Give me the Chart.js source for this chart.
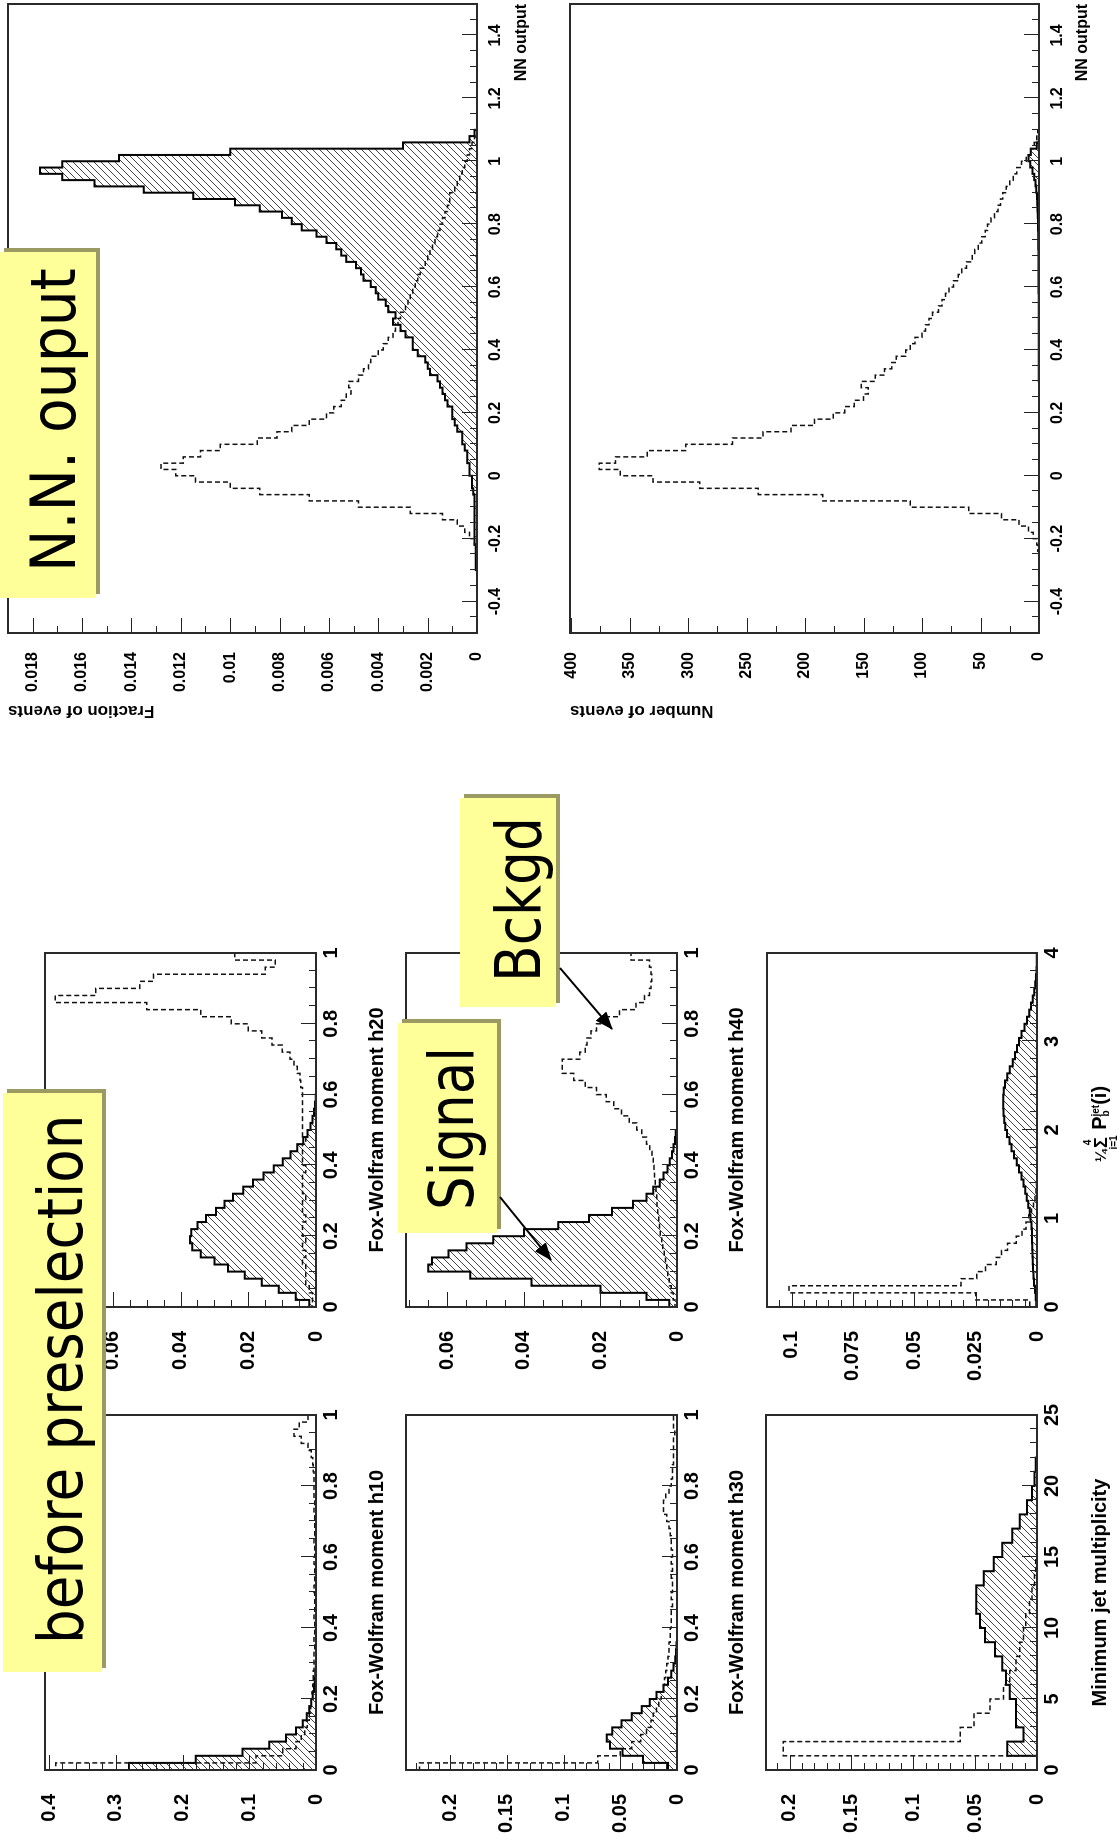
<!DOCTYPE html>
<html><head><meta charset="utf-8">
<script src="https://cdn.jsdelivr.net/npm/chart.js@4.4.1/dist/chart.umd.min.js"></script>
<style>
html,body{margin:0;padding:0;background:#fff;width:1119px;height:1842px;overflow:hidden}
#stage{position:absolute;left:0;top:0;width:1842px;height:1119px;transform-origin:0 0;transform:translateY(1842px) rotate(-90deg);background:#fff}
.note{position:absolute;background:#ffff99;box-shadow:4px 4px 0 #9a9a62;z-index:5}
.note span{position:absolute;font-family:'DejaVu Sans',Verdana,sans-serif;font-size:62px;line-height:62px;white-space:nowrap;transform-origin:0 0;color:#000}
#p6title{position:absolute;left:718px;top:1101px;transform:translate(-50%,-50%);font:bold 20px 'Liberation Sans',Arial,sans-serif;white-space:nowrap;z-index:2;color:#000}
.stk{display:inline-block;vertical-align:middle;text-align:center;line-height:10px}
.stk b{display:block;font-size:10px}
</style></head>
<body>
<div id="stage">
<div class="note" style="left:170px;top:3px;width:579px;height:99px"><span style="left:28px;top:27px;transform:scaleX(0.883)">before preselection</span></div>
<div class="note" style="left:1244px;top:0px;width:346px;height:96px"><span style="left:26px;top:23px;transform:scaleX(0.915)">N.N. ouput</span></div>
<div class="note" style="left:609px;top:398px;width:210px;height:99px"><span style="left:23px;top:23px;transform:scaleX(0.856)">Signal</span></div>
<div class="note" style="left:835px;top:460px;width:209px;height:96px"><span style="left:25px;top:28px;transform:scaleX(0.862)">Bckgd</span></div>
<svg width="1842" height="1119" style="position:absolute;left:0;top:0;z-index:6">
<defs><marker id="ah" markerUnits="userSpaceOnUse" markerWidth="18" markerHeight="14" refX="17" refY="7" orient="auto"><path d="M0,0 L18,7 L0,14 Z" fill="#000"/></marker></defs>
<line x1="645" y1="500" x2="582" y2="551" stroke="#000" stroke-width="2" marker-end="url(#ah)"/>
<line x1="874" y1="560" x2="813" y2="612" stroke="#000" stroke-width="2" marker-end="url(#ah)"/>
</svg>
<div id="p6title"><span style="font-size:15px">¼</span><span class="stk"><b>4</b><span style="font-size:18px;display:block;line-height:16px">Σ</span><b>i=1</b></span> P<span class="stk" style="text-align:left"><b>jet</b><b>b</b></span>(i)</div>
</div>
<script>
// ---------------- data ----------------
const SMALL_BINW = 0.02;
const xTicks01 = [0, 0.2, 0.4, 0.6, 0.8, 1];

// panel h10 (top left)
const p1YTicks = [0, 0.1, 0.2, 0.3, 0.4];
const p1Signal = [0.28,0.18,0.11,0.07,0.045,0.03,0.02,0.014,0.01,0.007,0.005,0.003,0.002,0.001,0.0005,
 0,0,0,0,0,0,0,0,0,0,0,0,0,0,0,0,0,0,0,0,0,0,0,0,0,0,0,0,0,0,0,0,0,0,0];
const p1Bkgd = [0.39,0.09,0.05,0.03,0.022,0.017,0.013,0.010,0.008,0.007,
 0.006,0.005,0.004,0.004,0.003,0.003,0.003,0.002,0.003,0.002,
 0.002,0.003,0.002,0.002,0.002,0.003,0.002,0.002,0.002,0.003,
 0.002,0.002,0.003,0.002,0.002,0.002,0.003,0.002,0.003,0.003,
 0.003,0.003,0.004,0.005,0.007,0.012,0.022,0.033,0.025,0.012];

// panel h30 (middle left)
const p2YTicks = [0, 0.05, 0.1, 0.15, 0.2];
const p2Signal = [0.008,0.03,0.048,0.059,0.062,0.057,0.049,0.04,0.031,0.024,
 0.018,0.012,0.008,0.005,0.003,0.0015,0.0008,0.0004,0,0,
 0,0,0,0,0,0,0,0,0,0,0,0,0,0,0,0,0,0,0,0,0,0,0,0,0,0,0,0,0,0];
const p2Bkgd = [0.227,0.07,0.05,0.04,0.032,0.027,0.023,0.021,0.018,0.016,
 0.014,0.012,0.011,0.010,0.009,0.008,0.007,0.007,0.006,0.006,
 0.005,0.005,0.005,0.004,0.005,0.004,0.004,0.005,0.004,0.005,
 0.004,0.005,0.005,0.006,0.007,0.009,0.012,0.012,0.010,0.007,
 0.005,0.004,0.004,0.003,0.003,0.003,0.003,0.002,0.003,0.003];

// panel jet multiplicity (bottom left)
const p3XTicks = [0, 5, 10, 15, 20, 25];
const p3YTicks = [0, 0.05, 0.1, 0.15, 0.2];
const p3Signal = [0,0.024,0.011,0.017,0.017,0.022,0.025,0.028,0.034,0.042,0.046,0.049,0.049,0.043,0.035,0.028,0.020,0.014,0.008,0.004,0.002,0.001,0,0,0];
const p3Bkgd = [0,0.205,0.062,0.051,0.038,0.027,0.022,0.017,0.014,0.011,0.009,0.006,0.004,0.002,0.001,0,0,0,0,0,0,0,0,0,0];

// panel h20 (top right)
const p4YTicks = [0, 0.02, 0.04, 0.06];
const p4Signal = [0.002,0.006,0.011,0.016,0.021,0.026,0.030,0.034,0.0365,0.0372,
 0.0368,0.035,0.0325,0.0295,0.027,0.0245,0.0215,0.0186,0.0155,0.0125,
 0.0098,0.0075,0.0055,0.0038,0.0025,0.0016,0.001,0.0006,0.0003,0.0001,
 0,0,0,0,0,0,0,0,0,0,0,0,0,0,0,0,0,0,0,0];
const p4Bkgd = [0.001,0.001,0.002,0.003,0.003,0.003,0.004,0.003,0.004,0.003,
 0.004,0.004,0.003,0.004,0.004,0.003,0.004,0.004,0.004,0.003,
 0.004,0.004,0.004,0.003,0.004,0.004,0.004,0.004,0.004,0.004,
 0.004,0.0045,0.0047,0.0055,0.0065,0.0077,0.01,0.013,0.016,0.02,
 0.025,0.034,0.05,0.077,0.065,0.052,0.048,0.015,0.012,0.024];

// panel h40 (middle right)
const p5YTicks = [0, 0.02, 0.04, 0.06];
const p5Signal = [0.002,0.008,0.02,0.038,0.054,0.065,0.064,0.0597,0.055,0.048,
 0.04,0.031,0.023,0.017,0.0115,0.008,0.0062,0.0045,0.0035,0.0025,
 0.0019,0.0013,0.0009,0.0005,0.0003,0,0,0,0,0,
 0,0,0,0,0,0,0,0,0,0,0,0,0,0,0,0,0,0,0,0];
const p5Bkgd = [0.0005,0.001,0.0015,0.002,0.0024,0.0027,0.003,0.0033,0.0037,0.004,
 0.0044,0.0046,0.0048,0.005,0.0052,0.0053,0.0055,0.0057,0.0059,0.006,
 0.0062,0.0065,0.0071,0.008,0.0092,0.0105,0.0125,0.0145,0.0165,0.0185,
 0.021,0.024,0.027,0.03,0.03,0.0254,0.024,0.0235,0.0225,0.021,
 0.0185,0.015,0.0107,0.0085,0.0072,0.0068,0.0066,0.0068,0.0072,0.012];

// panel b-tag probability (bottom right), bins of 0.08
const P6_BINW = 0.08;
const p6XTicks = [0, 1, 2, 3, 4];
const p6YTicks = [0, 0.025, 0.05, 0.075, 0.1];
const p6Signal = [0.0003,0.0005,0.0008,0.0012,0.0014,0.0016,0.0017,0.0018,0.0019,0.002,
 0.002,0.0022,0.0026,0.003,0.0036,0.0042,0.0048,0.0055,0.0063,0.0073,
 0.0083,0.0094,0.0104,0.0112,0.0122,0.0129,0.0133,0.0136,0.0138,0.0137,
 0.0135,0.013,0.0121,0.0111,0.0099,0.009,0.0081,0.0073,0.0063,0.0051,
 0.0041,0.0032,0.0024,0.0017,0.0011,0.0007,0.0004,0.0002,0.0001,0.0001];
const p6Bkgd = [0.003,0.025,0.101,0.031,0.0245,0.021,0.0166,0.0145,0.012,0.0085,
 0.0061,0.0045,0.0034,0.0022,0.0014,0.0008,0.0004,0.0002,0,0,
 0,0,0,0,0,0,0,0,0,0,0,0,0,0,0,0,0,0,0,0,0,0,0,0,0,0,0,0,0,0];

// NN output panels, 100 bins of 0.02 from -0.5
const NN_XMIN = -0.5, NN_BINW = 0.02;
const nnXTicks = [-0.4, -0.2, 0, 0.2, 0.4, 0.6, 0.8, 1, 1.2, 1.4];
const nnTopYTicks = [0, 0.002, 0.004, 0.006, 0.008, 0.01, 0.012, 0.014, 0.016, 0.018];
const nnBotYTicks = [0, 50, 100, 150, 200, 250, 300, 350, 400];
const nnSignal = [0,0,0,0,0,0,0,0,0,0,
 0.00005,0.00005,0.00005,0.00005,0.0001,0.0001,0.0001,0.0001,0.0001,0.0001,
 0.0001,0.0001,0.00015,0.0002,0.0002,0.0003,0.0003,0.0004,0.0004,0.0005,
 0.0006,0.0006,0.0008,0.0009,0.001,0.001,0.0012,0.0013,0.0014,0.0015,
 0.0016,0.0019,0.002,0.0021,0.0024,0.0026,0.0026,0.0029,0.0031,0.0034,
 0.0033,0.0036,0.0037,0.004,0.0041,0.0043,0.0046,0.0047,0.0049,0.0053,
 0.0055,0.0057,0.0061,0.0065,0.0071,0.0075,0.0079,0.0088,0.0098,0.0115,
 0.0135,0.0155,0.0168,0.0177,0.0168,0.0145,0.010,0.003,0.0003,0.0001,
 0,0,0,0,0,0,0,0,0,0,
 0,0,0,0,0,0,0,0,0,0];
const nnBkgd = [0,0,0,0,0,0,0,0,0,0,
 0,0,0,0.00005,0.0001,0.0003,0.0005,0.0008,0.0014,0.0027,
 0.0048,0.0068,0.0088,0.0100,0.0114,0.0122,0.0128,0.0119,0.0112,0.0104,
 0.0089,0.0081,0.0075,0.0068,0.0061,0.0058,0.0055,0.0053,0.0051,0.0052,
 0.0048,0.0046,0.0044,0.0043,0.0040,0.0038,0.0036,0.0034,0.0033,0.0032,
 0.0031,0.0029,0.0028,0.0027,0.0026,0.0025,0.0024,0.0023,0.0021,0.0020,
 0.0019,0.0018,0.0017,0.0016,0.0015,0.0014,0.0013,0.0012,0.0011,0.0011,
 0.0009,0.0008,0.0007,0.0006,0.0005,0.0004,0.0003,0.0002,0.0001,0,
 0,0,0,0,0,0,0,0,0,0,
 0,0,0,0,0,0,0,0,0,0];
const nnCountBkgd = [0,0,0,0,0,0,0,0,0,0,
 0,0,0,1,2,5,9,17,32,60,
 110,185,240,290,330,358,376,362,335,302,
 262,236,212,192,176,166,158,150,146,152,
 140,132,126,122,114,110,106,100,97,94,
 91,86,83,80,77,73,69,66,62,57,
 55,52,49,46,44,41,38,35,33,31,
 28,25,22,19,15,11,7,4,2,1,
 0,0,0,0,0,0,0,0,0,0,
 0,0,0,0,0,0,0,0,0,0];
const nnCountSignal = [0,0,0,0,0,0,0,0,0,0,
 0,0,0,0,0,0,0,0,0,0,
 0,0,0,0,0,0,0,0,0,0,
 0,0,0,0,0,0,0,0,0,0,
 0.2,0.2,0.2,0.2,0.2,0.2,0.2,0.2,0.2,0.2,
 0.3,0.3,0.3,0.3,0.4,0.4,0.4,0.5,0.5,0.5,
 0.5,0.6,0.6,0.7,0.8,0.9,1.0,1.2,1.5,1.8,
 2.3,3,4,5.5,7.5,9,7,2,0.3,0,
 0,0,0,0,0,0,0,0,0,0,
 0,0,0,0,0,0,0,0,0,0];

// ---------------- drawing ----------------
const FONT = "'Liberation Sans', Arial, Helvetica, sans-serif";
const stage = document.getElementById('stage');

function makeHatch() {
  const s = 7, c = document.createElement('canvas');
  c.width = s; c.height = s;
  const g = c.getContext('2d');
  g.strokeStyle = '#444'; g.lineWidth = 1;
  g.beginPath();
  g.moveTo(-1, s + 1); g.lineTo(s + 1, -1);
  g.moveTo(-1, 1); g.lineTo(1, -1);
  g.moveTo(s - 1, s + 1); g.lineTo(s + 1, s - 1);
  g.stroke();
  return g.createPattern(c, 'repeat');
}
const HATCH = makeHatch();

function histPoints(values, xmin, binw) {
  const pts = [{x: xmin, y: 0}];
  values.forEach((v, k) => pts.push({x: xmin + k * binw, y: v}));
  pts.push({x: xmin + values.length * binw, y: values[values.length - 1]});
  pts.push({x: xmin + values.length * binw, y: 0});
  return pts;
}

const rootFrame = {
  id: 'rootFrame',
  afterDatasetsDraw(chart, args, o) {
    const {ctx, chartArea: a} = chart;
    const xs = chart.scales.x, ys = chart.scales.y;
    const tickSet = (scale, sub) => {
      const vals = scale.ticks.map(t => t.value);
      const ms = (vals[1] - vals[0]) / sub;
      let start = vals[0];
      while (start - ms >= scale.min - 1e-9) start -= ms;
      const out = [];
      for (let i = 0; ; i++) {
        const v = start + i * ms;
        if (v > scale.max + 1e-9) break;
        out.push([v, vals.some(m => Math.abs(m - v) < ms * 1e-3)]);
      }
      return out;
    };
    ctx.save();
    ctx.strokeStyle = '#222';
    ctx.lineWidth = 1;
    ctx.beginPath();
    for (const [v, maj] of tickSet(xs, o.xSub)) {
      const p = Math.round(xs.getPixelForValue(v)) + 0.5;
      ctx.moveTo(p, a.bottom); ctx.lineTo(p, a.bottom - (maj ? o.major : o.minor));
    }
    for (const [v, maj] of tickSet(ys, o.ySub)) {
      const p = Math.round(ys.getPixelForValue(v)) + 0.5;
      ctx.moveTo(a.left, p); ctx.lineTo(a.left + (maj ? o.major : o.minor), p);
    }
    ctx.stroke();
    ctx.lineWidth = 2;
    ctx.strokeStyle = '#2a2a2a';
    ctx.strokeRect(a.left, a.top, a.right - a.left, a.bottom - a.top);
    ctx.restore();
  }
};
Chart.register(rootFrame);

function makePanel(p) {
  const T = p.T, R = p.R;
  const w = (p.u1 - p.u0) + p.L + R, h = (p.v1 - p.v0) + T + p.B;
  const c = document.createElement('canvas');
  c.width = w; c.height = h;
  c.style.cssText = `position:absolute;left:${p.u0 - p.L}px;top:${p.v0 - T}px;width:${w}px;height:${h}px;z-index:1`;
  stage.appendChild(c);
  const tf = {family: FONT, size: p.fs, weight: 'bold'};
  const ttf = {family: FONT, size: p.tfs || p.fs, weight: 'bold'};
  new Chart(c.getContext('2d'), {
    type: 'line',
    data: {datasets: [
      {label: 'Background', data: histPoints(p.bkg, p.bmin, p.binw), stepped: 'before', borderColor: '#111',
       borderWidth: 1.5, borderDash: [5, 3], pointRadius: 0, fill: false, order: 0},
      {label: 'Signal', data: histPoints(p.sig, p.bmin, p.binw), stepped: 'before', borderColor: '#000',
       borderWidth: 2, pointRadius: 0, fill: 'origin', backgroundColor: HATCH, order: 1}
    ]},
    options: {
      responsive: false, animation: false, devicePixelRatio: 1,
      layout: {padding: {top: T, right: R, bottom: 0, left: 0}},
      plugins: {legend: {display: false}, tooltip: {enabled: false},
        rootFrame: {xSub: p.xSub, ySub: p.ySub, major: 15, minor: 7}},
      scales: {
        x: {type: 'linear', min: p.xmin, max: p.xmax,
          grid: {display: false, drawTicks: false}, border: {display: false},
          afterBuildTicks: s => { s.ticks = p.xt.map(v => ({value: v})); },
          afterFit: s => { s.height = p.B; s.paddingLeft = 0; s.paddingRight = 0; },
          ticks: {font: tf, color: '#000', padding: p.xPad, maxRotation: 0, minRotation: 0, autoSkip: false, callback: v => String(v)},
          title: {display: !!p.xTitle, text: p.xTitle || '', font: tf, color: '#000', padding: 0, align: p.xAlign || 'center'}},
        y: {type: 'linear', min: 0, max: p.ymax,
          grid: {display: false, drawTicks: false}, border: {display: false},
          afterBuildTicks: s => { s.ticks = p.yt.map(v => ({value: v})); },
          afterFit: s => { s.width = p.L; s.paddingTop = 0; s.paddingBottom = 0; },
          ticks: {font: tf, color: '#000', padding: p.yPad, autoSkip: false, callback: v => String(v)},
          title: {display: !!p.yTitle, text: p.yTitle || '', font: ttf, color: '#000', padding: {top: 12, bottom: 0}, align: 'end'}}
      }
    }
  });
}

const small = {T: 10, R: 20, fs: 20, xPad: 3, yPad: 24, xSub: 4, binw: SMALL_BINW, bmin: 0, xmin: 0, xmax: 1, xt: xTicks01};
const panels = [
  Object.assign({}, small, {u0: 72, u1: 427, v0: 45, v1: 316, L: 72, B: 73, ymax: 0.406, yt: p1YTicks, ySub: 5,
    sig: p1Signal, bkg: p1Bkgd, xTitle: 'Fox-Wolfram moment h10'}),
  Object.assign({}, small, {u0: 72, u1: 427, v0: 406, v1: 677, L: 72, B: 72, ymax: 0.239, yt: p2YTicks, ySub: 5,
    sig: p2Signal, bkg: p2Bkgd, xTitle: 'Fox-Wolfram moment h30'}),
  Object.assign({}, small, {u0: 72, u1: 427, v0: 766, v1: 1037, L: 72, B: 75, ymax: 0.219, yt: p3YTicks, ySub: 5,
    xmax: 25, xt: p3XTicks, xSub: 5, binw: 1, sig: p3Signal, bkg: p3Bkgd, xTitle: 'Minimum jet multiplicity'}),
  Object.assign({}, small, {u0: 535, u1: 889, v0: 45, v1: 316, L: 100, B: 73, ymax: 0.080, yt: p4YTicks, ySub: 4,
    sig: p4Signal, bkg: p4Bkgd, xTitle: 'Fox-Wolfram moment h20'}),
  Object.assign({}, small, {u0: 535, u1: 889, v0: 406, v1: 677, L: 100, B: 72, ymax: 0.0708, yt: p5YTicks, ySub: 4,
    sig: p5Signal, bkg: p5Bkgd, xTitle: 'Fox-Wolfram moment h40'}),
  Object.assign({}, small, {u0: 535, u1: 889, v0: 767, v1: 1037, L: 100, B: 75, ymax: 0.110, yt: p6YTicks, ySub: 5,
    xmax: 4, xt: p6XTicks, xSub: 5, binw: P6_BINW, sig: p6Signal, bkg: p6Bkgd, xTitle: ''}),
  {u0: 1209, u1: 1838, v0: 8, v1: 477, L: 100, T: 8, R: 4, B: 54, fs: 16, tfs: 17, xPad: 9, yPad: 19, xSub: 4, ySub: 2,
    xmin: NN_XMIN, xmax: 1.5, bmin: NN_XMIN, binw: NN_BINW, ymax: 0.019, xt: nnXTicks, yt: nnTopYTicks,
    sig: nnSignal, bkg: nnBkgd, xTitle: 'NN output', xAlign: 'end', yTitle: 'Fraction of events'},
  {u0: 1209, u1: 1838, v0: 570, v1: 1039, L: 100, T: 7, R: 4, B: 53, fs: 16, tfs: 17, xPad: 9, yPad: 19, xSub: 4, ySub: 2,
    xmin: NN_XMIN, xmax: 1.5, bmin: NN_XMIN, binw: NN_BINW, ymax: 401, xt: nnXTicks, yt: nnBotYTicks,
    sig: nnCountSignal, bkg: nnCountBkgd, xTitle: 'NN output', xAlign: 'end', yTitle: 'Number of events'}
];
panels.forEach(makePanel);
</script>
</body></html>
